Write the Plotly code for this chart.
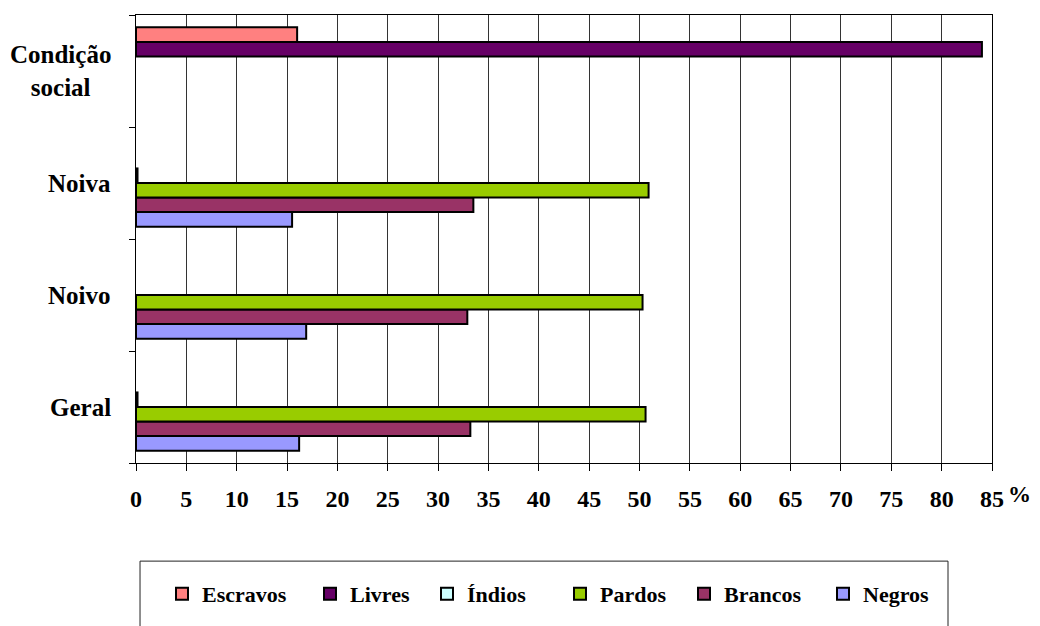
import plotly.graph_objects as go

categories = ["Geral", "Noivo", "Noiva", "Condição social"]
category_labels = ["Geral", "Noivo", "Noiva", "Condição<br>social"]
x_ticks = list(range(0, 90, 5))

negros = [16.2, 16.9, 15.5, None]
brancos = [33.2, 32.9, 33.5, None]
pardos = [50.6, 50.3, 50.9, None]
indios = [0.15, None, 0.15, None]
livres = [None, None, None, 84.0]
escravos = [None, None, None, 16.0]

# (name, values, colour, legend id)
series = [
    ("Negros", negros, "#9999FF", "legend6"),
    ("Brancos", brancos, "#993366", "legend5"),
    ("Pardos", pardos, "#99CC00", "legend4"),
    ("Índios", indios, "#CCFFFF", "legend3"),
    ("Livres", livres, "#660066", "legend2"),
    ("Escravos", escravos, "#FF8080", "legend"),
]
# legend symbol centres (px, container coordinates)
legend_centres = {"legend": 174, "legend2": 322, "legend3": 439,
                  "legend4": 572, "legend5": 696, "legend6": 835}

FONT = "Liberation Serif"
FIG_W, FIG_H = 1032, 618

fig = go.Figure()
for name, vals, color, lg in series:
    fig.add_trace(go.Bar(
        name=name, y=categories, x=vals, orientation="h", legend=lg,
        marker=dict(color=color, line=dict(color="black", width=2)),
    ))

annotations = [dict(
    text="%", xref="paper", yref="paper", x=1.016, y=-0.07,
    xanchor="left", yanchor="middle", showarrow=False,
    font=dict(family=FONT, size=23, weight="bold"),
)]
for cat, lab in zip(categories, category_labels):
    annotations.append(dict(
        text=lab, xref="paper", yref="y", x=-0.027, y=cat,
        xanchor="right", yanchor="middle", align="center", showarrow=False,
        font=dict(family=FONT, size=25, weight="bold"),
    ))

legends = {}
for lg, cx in legend_centres.items():
    legends[lg] = dict(
        orientation="h", xref="container", yref="container",
        x=(cx - 20) / FIG_W, xanchor="left", y=0.052, yanchor="middle",
        font=dict(family=FONT, size=22, weight="bold"),
        bgcolor="rgba(0,0,0,0)", borderwidth=0,
    )

fig.update_layout(
    width=FIG_W, height=FIG_H,
    margin=dict(l=128, r=48, t=7, b=163),
    paper_bgcolor="white", plot_bgcolor="white",
    barmode="group", bargap=0.22, bargroupgap=0,
    font=dict(family=FONT, color="black"),
    showlegend=True,
    shapes=[dict(
        type="rect", xref="paper", yref="paper",
        x0=0.0047, x1=0.9486, y0=-0.40, y1=-0.219,
        line=dict(color="#222222", width=1), fillcolor="rgba(0,0,0,0)",
    )],
    annotations=annotations,
    **legends,
)

fig.update_xaxes(
    range=[0, 85], tickvals=x_ticks, ticktext=[str(v) for v in x_ticks],
    showgrid=True, gridcolor="#333333", gridwidth=1,
    showline=True, linecolor="black", linewidth=1, mirror=True,
    ticks="outside", ticklen=7, tickcolor="black",
    tickfont=dict(family=FONT, size=24, weight="bold"),
    ticklabelstandoff=7, zeroline=False, fixedrange=True,
)
fig.update_yaxes(
    categoryorder="array", categoryarray=categories,
    showline=True, linecolor="black", linewidth=1, mirror=True,
    ticks="outside", ticklen=6, tickcolor="black", tickson="boundaries",
    showticklabels=False, showgrid=False, fixedrange=True,
)

fig.write_html("out.html")
